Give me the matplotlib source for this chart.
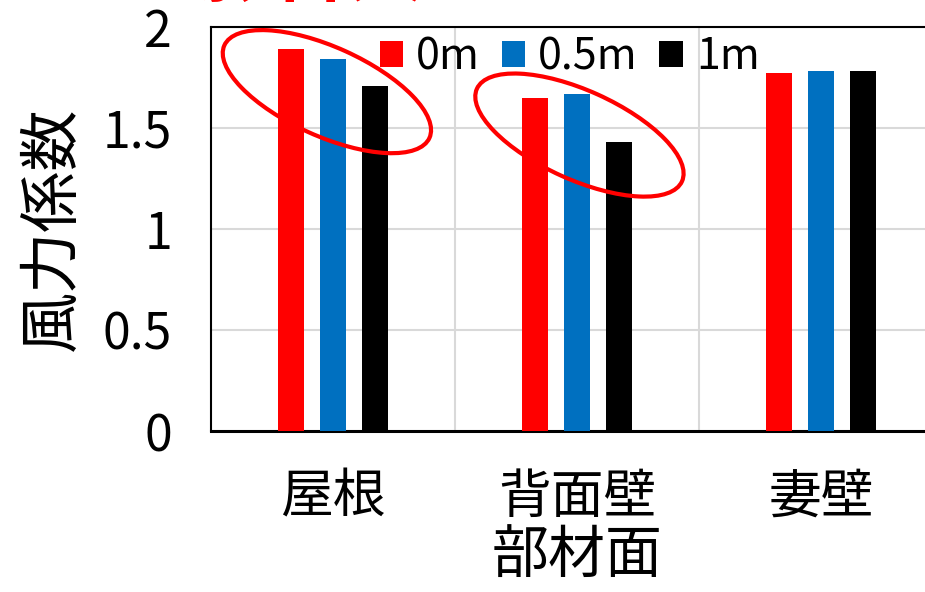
import numpy as np
import matplotlib
matplotlib.use("Agg")
import matplotlib.pyplot as plt
from matplotlib.patches import Ellipse
from matplotlib.transforms import ScaledTranslation

plt.rcParams['font.family'] = ['Noto Sans CJK JP', 'DejaVu Sans']

categories = ['屋根', '背面壁', '妻壁']
series = ['0m', '0.5m', '1m']
vals_0m = [1.89, 1.65, 1.77]
vals_05m = [1.84, 1.67, 1.78]
vals_1m = [1.71, 1.43, 1.78]
colors = ['#FF0000', '#0070C0', '#000000']
yticks = [0, 0.5, 1, 1.5, 2]

fig = plt.figure(figsize=(9.25, 5.92), dpi=100)
ax = fig.add_axes([211/925, 161/592, 732/925, 404/592])

x = np.arange(len(categories))
w = 0.11
off = 0.172
for i, (v, c, s) in enumerate(zip([vals_0m, vals_05m, vals_1m], colors, series)):
    ax.bar(x + (i - 1) * off, v, width=w, color=c, label=s, zorder=3)

ax.set_xlim(-0.5, 2.5)
ax.set_ylim(0, 2)
ax.set_yticks(yticks)
ax.set_yticklabels([f'{t:g}' for t in yticks])
ax.set_xticks(x)
ax.set_xticklabels(categories)
ax.set_xticks([0.5, 1.5], minor=True)
ax.tick_params(axis='both', which='both', length=0)
ax.tick_params(axis='y', labelsize=36, pad=28)
ax.tick_params(axis='x', labelsize=38, pad=28)
ax.grid(axis='y', color='#d9d9d9', linewidth=1.5, zorder=0)
ax.grid(axis='x', which='minor', color='#d9d9d9', linewidth=1.5, zorder=0)
for sp in ax.spines.values():
    sp.set_linewidth(1.5)
ax.spines['bottom'].set_linewidth(2.2)

ax.set_ylabel('風力係数', fontsize=44, labelpad=14)
ax.set_xlabel('部材面', fontsize=41, labelpad=1)

ax.legend(loc='upper center', bbox_to_anchor=(0.49, 1.075), ncol=3, frameon=False,
          fontsize=31, handlelength=0.55, handleheight=0.55, handletextpad=0.3,
          columnspacing=0.5)

# red ellipses marking the groups
for cx, cy in [(-0.025, 1.68), (1.01, 1.465)]:
    tr = fig.dpi_scale_trans + ScaledTranslation(cx, cy, ax.transData)
    e = Ellipse((0, 0), 2.25, 0.89, angle=-24.3, transform=tr, fill=False,
                edgecolor='#FF0000', linewidth=3, zorder=5, clip_on=False)
    ax.add_artist(e)

fig.text(0.335, 1.008, '影響大', color='#FF0000', fontsize=55, fontweight='bold',
         ha='center', va='baseline')

fig.savefig('out.png', dpi=100)
